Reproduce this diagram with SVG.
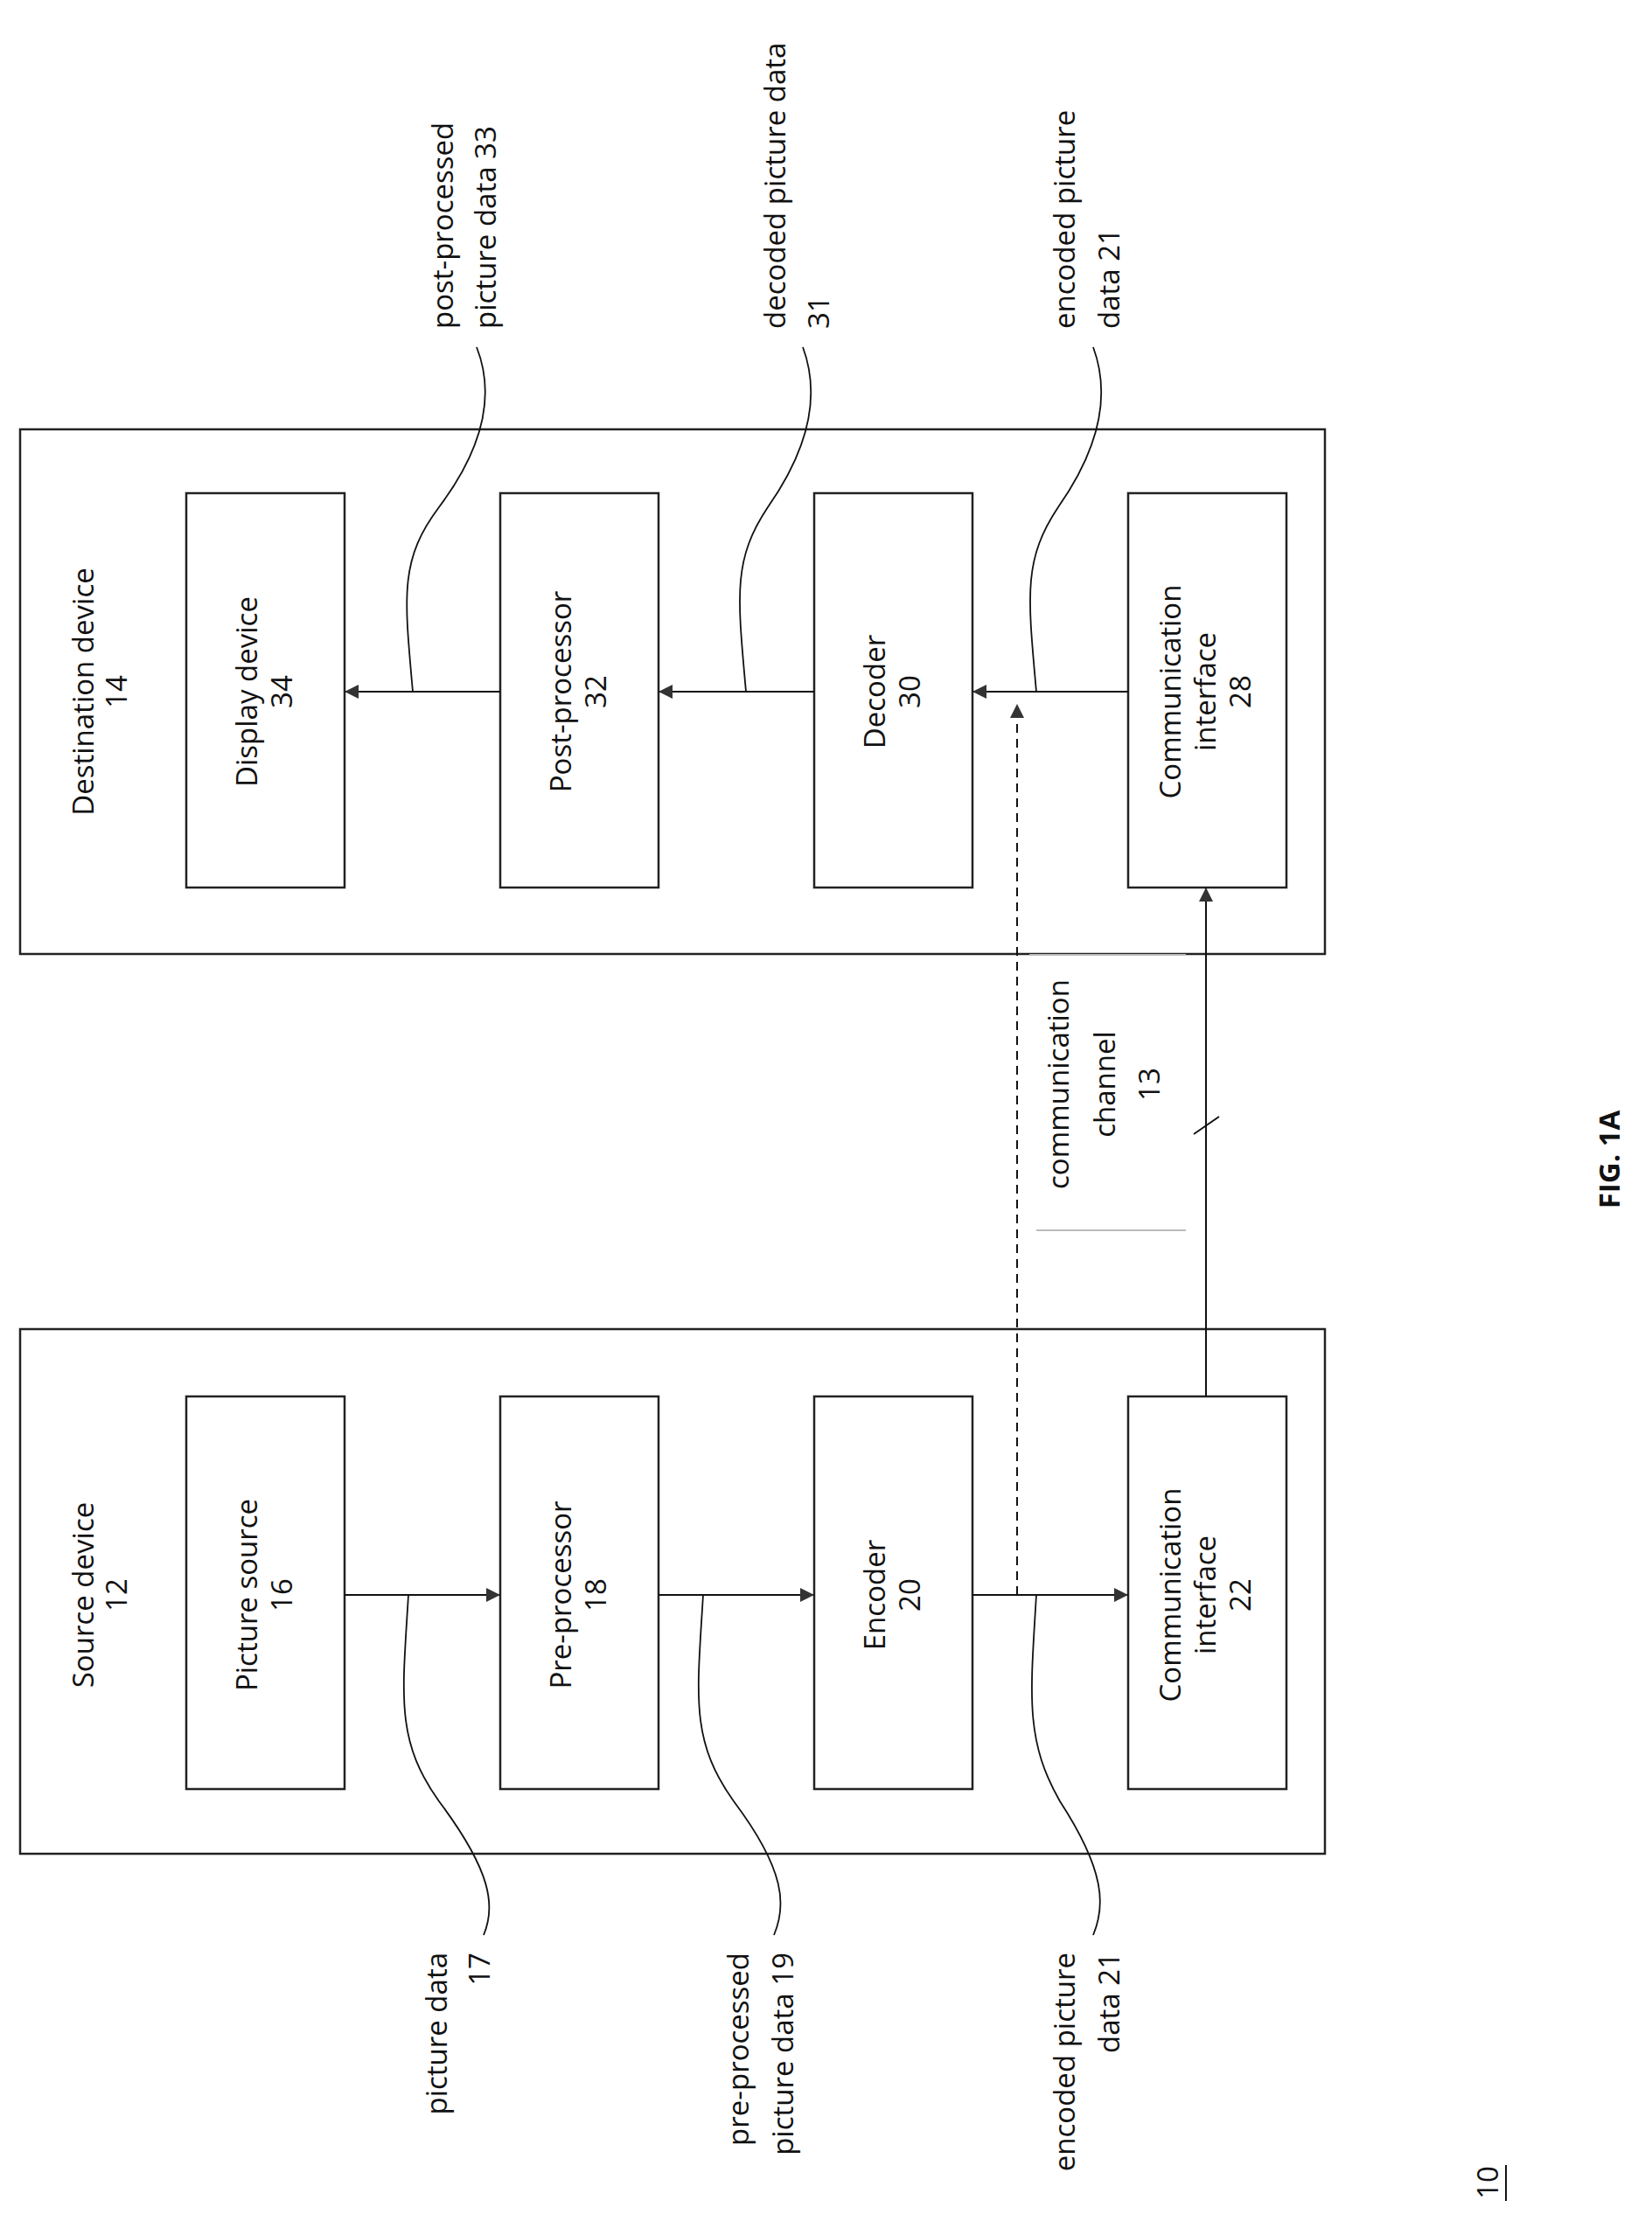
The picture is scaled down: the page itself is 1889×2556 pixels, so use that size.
<svg xmlns="http://www.w3.org/2000/svg" width="1889" height="2556" viewBox="0 0 1889 2556">
<style>
.box{fill:#fff;stroke:#222;stroke-width:2.5}
.t{font-family:"Open Sans","DejaVu Sans",sans-serif;font-size:33px;fill:#111}
.ln{fill:none;stroke:#111;stroke-width:2}
.cv{fill:none;stroke:#111;stroke-width:1.8}
</style>
<defs>
<marker id="ah" viewBox="0 0 10 10" refX="10" refY="5" markerWidth="18" markerHeight="16" markerUnits="userSpaceOnUse" orient="auto"><path d="M0,0 L10,5 L0,10 z" fill="#333"/></marker>
</defs>
<rect width="1889" height="2556" fill="#fff"/>
<g id="dest">
<rect class="box" x="23" y="491" width="1492" height="600"/>
<text class="t" transform="translate(107,791) rotate(-90)" text-anchor="middle">Destination device</text>
<text class="t" transform="translate(145,791) rotate(-90)" text-anchor="middle">14</text>
</g>
<g id="src">
<rect class="box" x="23" y="1520" width="1492" height="600"/>
<text class="t" transform="translate(107,1824) rotate(-90)" text-anchor="middle">Source device</text>
<text class="t" transform="translate(145,1824) rotate(-90)" text-anchor="middle">12</text>
</g>
<g id="n34"><rect class="box" x="213" y="564" width="181" height="451"/>
<text class="t" transform="translate(294,791) rotate(-90)" text-anchor="middle">Display device</text>
<text class="t" transform="translate(334,791) rotate(-90)" text-anchor="middle">34</text></g>
<g id="n32"><rect class="box" x="572" y="564" width="181" height="451"/>
<text class="t" transform="translate(653,791) rotate(-90)" text-anchor="middle">Post-processor</text>
<text class="t" transform="translate(693,791) rotate(-90)" text-anchor="middle">32</text></g>
<g id="n30"><rect class="box" x="931" y="564" width="181" height="451"/>
<text class="t" transform="translate(1012,791) rotate(-90)" text-anchor="middle">Decoder</text>
<text class="t" transform="translate(1052,791) rotate(-90)" text-anchor="middle">30</text></g>
<g id="n28"><rect class="box" x="1290" y="564" width="181" height="451"/>
<text class="t" transform="translate(1350,791) rotate(-90)" text-anchor="middle">Communication</text>
<text class="t" transform="translate(1390,791) rotate(-90)" text-anchor="middle">interface</text>
<text class="t" transform="translate(1430,791) rotate(-90)" text-anchor="middle">28</text></g>
<g id="n16"><rect class="box" x="213" y="1597" width="181" height="449"/>
<text class="t" transform="translate(294,1824) rotate(-90)" text-anchor="middle">Picture source</text>
<text class="t" transform="translate(334,1824) rotate(-90)" text-anchor="middle">16</text></g>
<g id="n18"><rect class="box" x="572" y="1597" width="181" height="449"/>
<text class="t" transform="translate(653,1824) rotate(-90)" text-anchor="middle">Pre-processor</text>
<text class="t" transform="translate(693,1824) rotate(-90)" text-anchor="middle">18</text></g>
<g id="n20"><rect class="box" x="931" y="1597" width="181" height="449"/>
<text class="t" transform="translate(1012,1824) rotate(-90)" text-anchor="middle">Encoder</text>
<text class="t" transform="translate(1052,1824) rotate(-90)" text-anchor="middle">20</text></g>
<g id="n22"><rect class="box" x="1290" y="1597" width="181" height="449"/>
<text class="t" transform="translate(1350,1824) rotate(-90)" text-anchor="middle">Communication</text>
<text class="t" transform="translate(1390,1824) rotate(-90)" text-anchor="middle">interface</text>
<text class="t" transform="translate(1430,1824) rotate(-90)" text-anchor="middle">22</text></g>
<g id="connectors">
<line class="ln" x1="394" y1="1824" x2="572" y2="1824" marker-end="url(#ah)"/>
<line class="ln" x1="753" y1="1824" x2="931" y2="1824" marker-end="url(#ah)"/>
<line class="ln" x1="1112" y1="1824" x2="1290" y2="1824" marker-end="url(#ah)"/>
<line class="ln" x1="1379" y1="1597" x2="1379" y2="1015" marker-end="url(#ah)"/>
<line class="ln" x1="1290" y1="791" x2="1112" y2="791" marker-end="url(#ah)"/>
<line class="ln" x1="931" y1="791" x2="753" y2="791" marker-end="url(#ah)"/>
<line class="ln" x1="572" y1="791" x2="394" y2="791" marker-end="url(#ah)"/>
<line class="ln" x1="1163" y1="1824" x2="1163" y2="805" stroke-dasharray="10,7" marker-end="url(#ah)"/>
<line x1="1365" y1="1297" x2="1394" y2="1277" stroke="#111" stroke-width="2"/>
<line x1="1177" y1="1092" x2="1356" y2="1092" stroke="#bbb" stroke-width="2"/>
<line x1="1185" y1="1407" x2="1356" y2="1407" stroke="#bbb" stroke-width="2"/>
<path class="cv" d="M467 1824 C460 1940 452 1990 502 2060 C562 2140 567 2180 553 2213"/>
<path class="cv" d="M804 1824 C797 1940 789 1990 839 2060 C899 2140 899 2180 885 2213"/>
<path class="cv" d="M1185 1824 C1178 1940 1172 1990 1212 2060 C1264 2140 1264 2180 1250 2213"/>
<path class="cv" d="M472 791 C462 680 457 640 502 580 C562 500 562 440 545 397"/>
<path class="cv" d="M853 791 C843 680 838 640 878 580 C934 500 934 440 918 397"/>
<path class="cv" d="M1185 791 C1175 680 1170 640 1210 580 C1266 500 1266 440 1250 397"/>
</g>
<g id="labels">
<text class="t" transform="translate(511,2233) rotate(-90)" text-anchor="end">picture data</text>
<text class="t" transform="translate(560,2233) rotate(-90)" text-anchor="end">17</text>
<text class="t" transform="translate(856,2233) rotate(-90)" text-anchor="end">pre-processed</text>
<text class="t" transform="translate(907,2233) rotate(-90)" text-anchor="end">picture data 19</text>
<text class="t" transform="translate(1229,2233) rotate(-90)" text-anchor="end">encoded picture</text>
<text class="t" transform="translate(1280,2233) rotate(-90)" text-anchor="end">data 21</text>
<text class="t" transform="translate(518,376) rotate(-90)">post-processed</text>
<text class="t" transform="translate(567,376) rotate(-90)">picture data 33</text>
<text class="t" transform="translate(898,376) rotate(-90)">decoded picture data</text>
<text class="t" transform="translate(948,376) rotate(-90)">31</text>
<text class="t" transform="translate(1229,376) rotate(-90)">encoded picture</text>
<text class="t" transform="translate(1280,376) rotate(-90)">data 21</text>
<text class="t" transform="translate(1222,1240) rotate(-90)" text-anchor="middle">communication</text>
<text class="t" transform="translate(1275,1240) rotate(-90)" text-anchor="middle">channel</text>
<text class="t" transform="translate(1326,1240) rotate(-90)" text-anchor="middle">13</text>
<text class="t" transform="translate(1852,1326) rotate(-90)" text-anchor="middle" font-weight="bold" font-size="36">FIG. 1A</text>
<text class="t" transform="translate(1713,2496) rotate(-90)" text-anchor="middle" font-size="36">10</text>
<line x1="1722" y1="2476" x2="1722" y2="2517" stroke="#111" stroke-width="2"/>
</g>
</svg>
